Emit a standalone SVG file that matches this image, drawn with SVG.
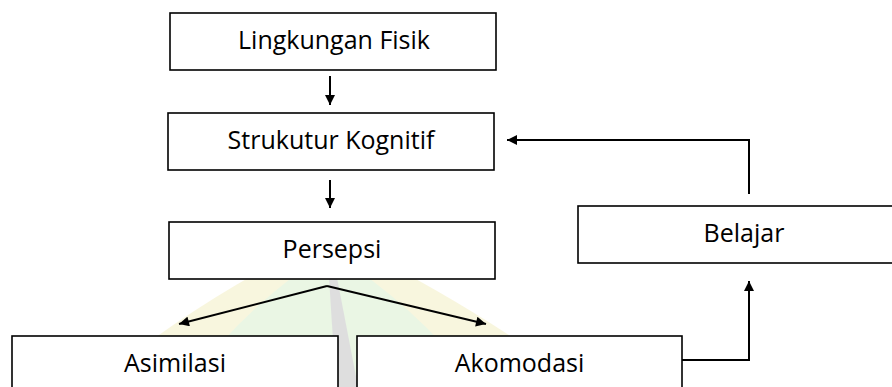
<svg xmlns="http://www.w3.org/2000/svg" width="892" height="387" viewBox="0 0 892 387">
  <style>
    .box { fill: #ffffff; stroke: #000000; stroke-width: 1.6; }
    .lbl { font-family: "Open Sans", "Liberation Sans", sans-serif; font-size: 25px; fill: #000000; text-anchor: middle; }
    .con { fill: none; stroke: #000000; stroke-width: 2; }
  </style>
  <defs>
    <marker id="ah" viewBox="0 0 10 10" refX="10" refY="5" markerWidth="11" markerHeight="10" markerUnits="userSpaceOnUse" orient="auto">
      <path d="M0,0 L10,5 L0,10 Z" fill="#000000"/>
    </marker>
  </defs>
  <rect width="892" height="387" fill="#ffffff"/>
  <g id="watermark" opacity="0.55">
    <path d="M330,236 Q450,290 585,387 L90,387 Q210,290 330,236 Z" fill="#f4efc4"/>
    <path d="M330,252 Q410,300 480,387 L185,387 Q250,300 330,252 Z" fill="#d9efcf"/>
    <polygon points="328,262 334,262 358,387 336,387" fill="#c4c4c4"/>
  </g>
  <g id="node-lingkungan">
    <rect class="box" x="170" y="13" width="326" height="57"/>
    <text class="lbl" x="334" y="49">Lingkungan Fisik</text>
  </g>
  <g id="node-struktur">
    <rect class="box" x="168" y="113" width="326" height="57"/>
    <text class="lbl" x="331" y="149">Strukutur Kognitif</text>
  </g>
  <g id="node-persepsi">
    <rect class="box" x="169" y="222" width="326" height="57"/>
    <text class="lbl" x="332" y="258">Persepsi</text>
  </g>
  <g id="node-belajar">
    <rect class="box" x="578" y="206" width="332" height="57"/>
    <text class="lbl" x="744" y="242">Belajar</text>
  </g>
  <g id="node-asimilasi">
    <rect class="box" x="12" y="336" width="326" height="60"/>
    <text class="lbl" x="175" y="372">Asimilasi</text>
  </g>
  <g id="node-akomodasi">
    <rect class="box" x="357" y="336" width="325" height="60"/>
    <text class="lbl" x="519.5" y="372">Akomodasi</text>
  </g>
  <g id="connectors">
    <path class="con" d="M330,76 V105" marker-end="url(#ah)"/>
    <path class="con" d="M330,180 V208" marker-end="url(#ah)"/>
    <path class="con" d="M327,286 L179,324" marker-end="url(#ah)"/>
    <path class="con" d="M327,286 L486,324" marker-end="url(#ah)"/>
    <path class="con" d="M749,194 V140 H507" marker-end="url(#ah)"/>
    <path class="con" d="M682,360 H749 V281" marker-end="url(#ah)"/>
  </g>
</svg>
